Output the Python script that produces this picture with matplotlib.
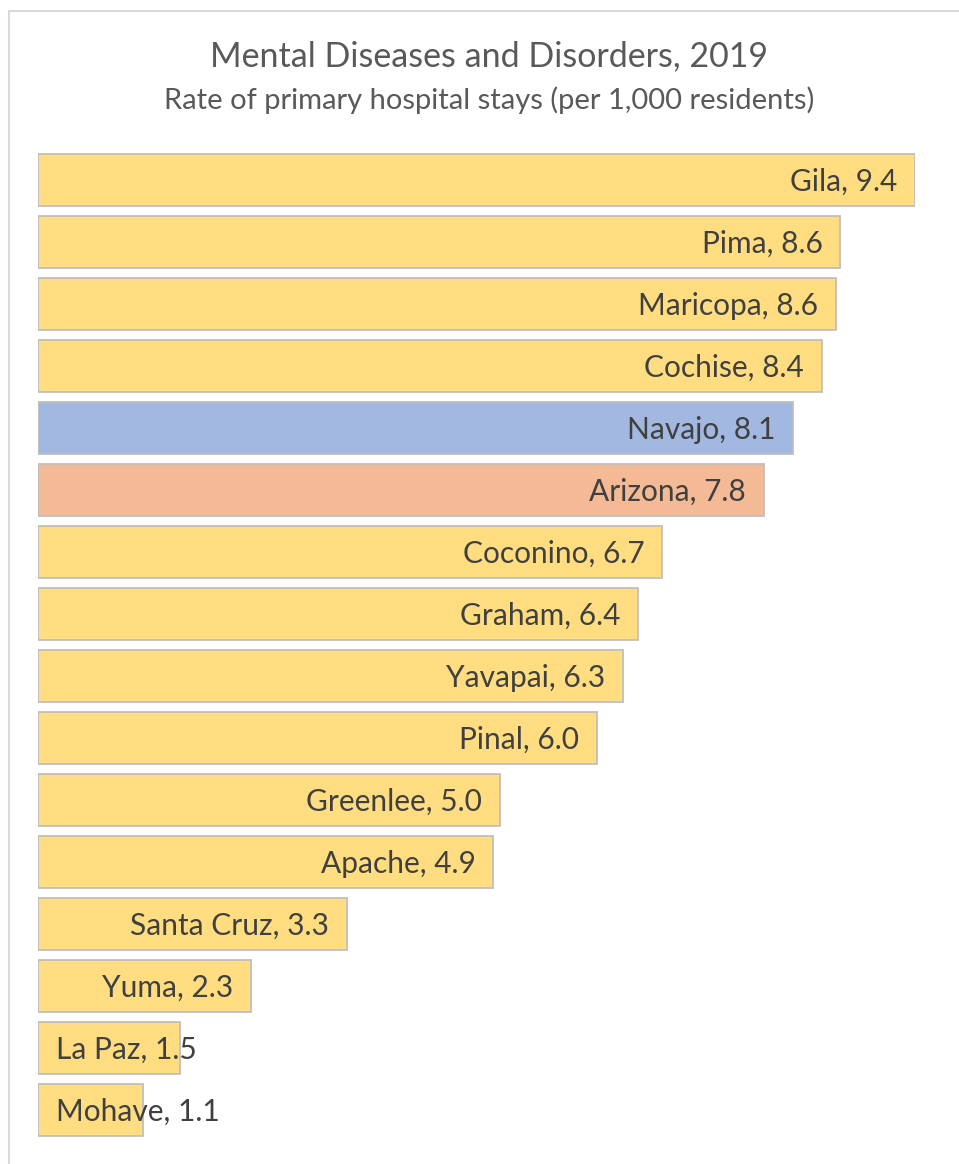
import matplotlib.pyplot as plt
import matplotlib.patches as patches

counties = ["Gila", "Pima", "Maricopa", "Cochise", "Navajo", "Arizona", "Coconino", "Graham",
            "Yavapai", "Pinal", "Greenlee", "Apache", "Santa Cruz", "Yuma", "La Paz", "Mohave"]
rates = [9.4, 8.6, 8.6, 8.4, 8.1, 7.8, 6.7, 6.4, 6.3, 6.0, 5.0, 4.9, 3.3, 2.3, 1.5, 1.1]
# bar lengths as drawn (the rounded labels hide small differences)
lengths = [9.4, 8.6, 8.55, 8.4, 8.09, 7.78, 6.69, 6.43, 6.27, 5.99, 4.95, 4.88, 3.31, 2.28, 1.52, 1.13]

YELLOW = "#FFDD80"
BLUE = "#A2B8E1"
ORANGE = "#F4BA96"
colors = []
for c in counties:
    if c == "Navajo":
        colors.append(BLUE)
    elif c == "Arizona":
        colors.append(ORANGE)
    else:
        colors.append(YELLOW)

plt.rcParams['font.family'] = ['Lato', 'DejaVu Sans']

W, H = 959, 1164
fig = plt.figure(figsize=(W / 100, H / 100), dpi=100)

# light frame around the chart area
frame = patches.Rectangle((9 / W, -0.1), 2, 1 - 11 / H + 0.1, transform=fig.transFigure,
                          fill=False, edgecolor="#D9D9D9", linewidth=1.5)
fig.patches.append(frame)

ax_left = 38 / W
ax_w = (915 - 38) / W
ax_top = 149
ax_bot = 1141
ax = fig.add_axes([ax_left, (H - ax_bot) / H, ax_w, (ax_bot - ax_top) / H])

ypos = list(range(len(counties)))
ax.barh(ypos, lengths, height=0.84, color=colors, edgecolor="#BFBFBF", linewidth=1.3)
ax.set_xlim(0, 9.4)
ax.set_ylim(len(counties) - 0.5, -0.5)
ax.axis("off")

fig.canvas.draw()
renderer = fig.canvas.get_renderer()
pad = 0.19
for y, name, r, L in zip(ypos, counties, rates, lengths):
    t = ax.text(L - pad, y + 0.03, f"{name}, {r:.1f}", ha="right", va="center",
                fontsize=21.5, color="#404040")
    bb = t.get_window_extent(renderer)
    x0 = ax.transData.inverted().transform((bb.x0, 0))[0]
    if x0 < pad:
        t.set_x(pad)
        t.set_ha("left")

fig.text(0.5104, 1 - 56 / H, "Mental Diseases and Disorders, 2019", ha="center", va="center",
         fontsize=24.5, color="#595959")
fig.text(0.5104, 1 - 100 / H, "Rate of primary hospital stays (per 1,000 residents)", ha="center",
         va="center", fontsize=21, color="#595959")

fig.savefig("out.png", dpi=100)
